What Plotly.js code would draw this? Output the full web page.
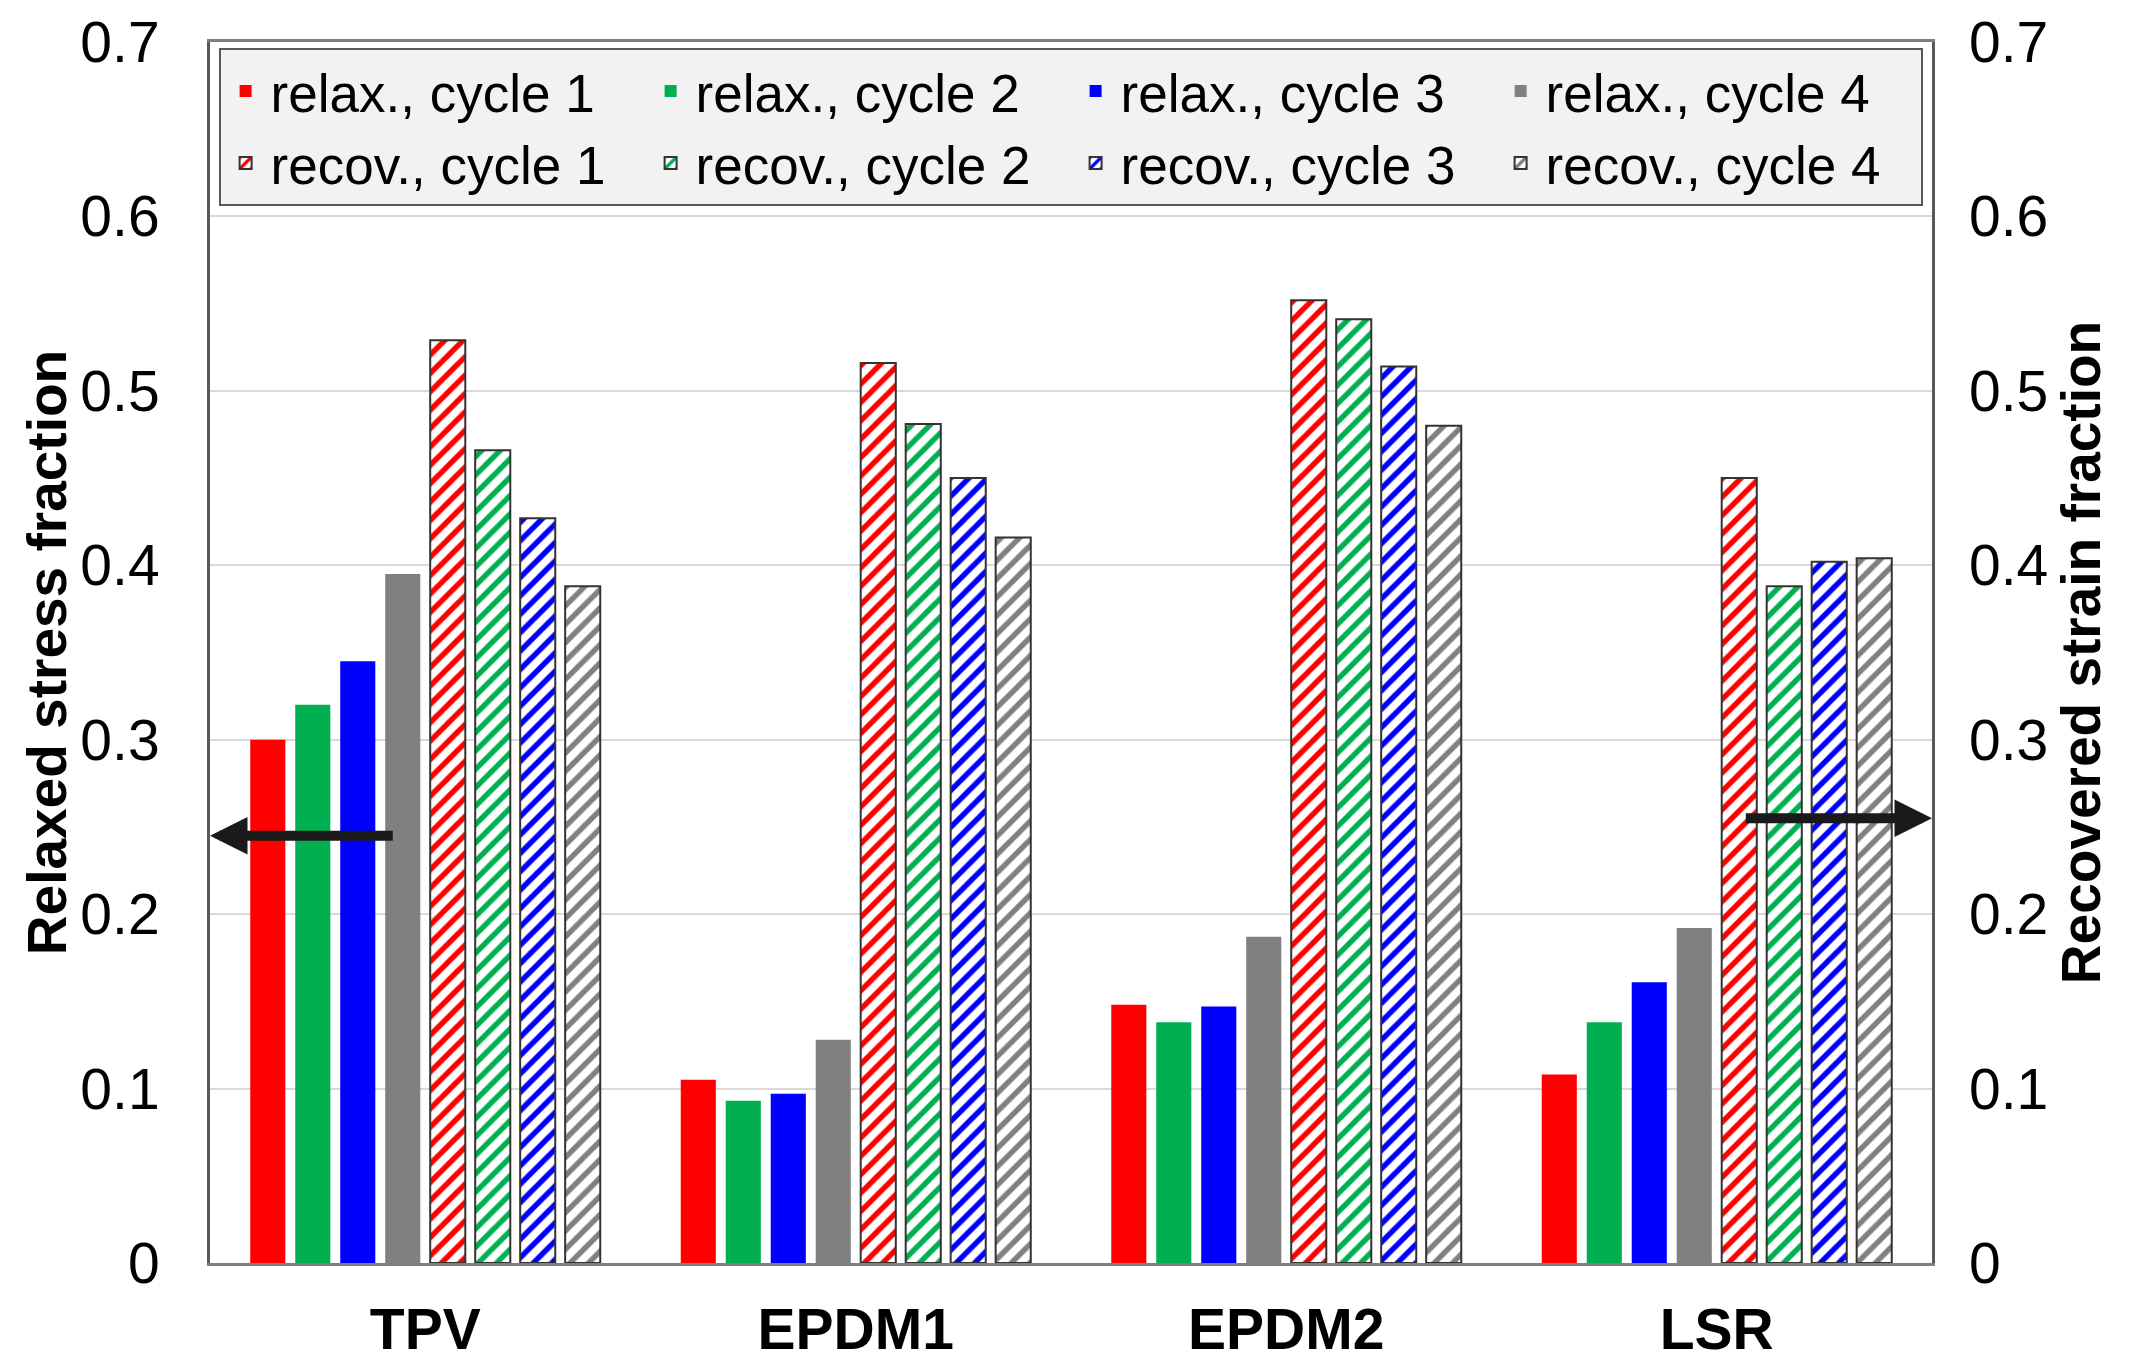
<!DOCTYPE html>
<html>
<head>
<meta charset="utf-8">
<script src="https://cdn.plot.ly/plotly-3.0.1.min.js"></script>
<style>html,body{margin:0;padding:0;background:#fff;}#chart{width:2137px;height:1370px;}</style>
</head>
<body>
<div id="chart"></div>
<script>
var categories = ["TPV", "EPDM1", "EPDM2", "LSR"];

var relaxCycle1 = [0.300, 0.105, 0.148, 0.108];
var relaxCycle2 = [0.320, 0.093, 0.138, 0.138];
var relaxCycle3 = [0.345, 0.097, 0.147, 0.161];
var relaxCycle4 = [0.395, 0.128, 0.187, 0.192];

var recovCycle1 = [0.529, 0.516, 0.552, 0.450];
var recovCycle2 = [0.466, 0.481, 0.541, 0.388];
var recovCycle3 = [0.427, 0.450, 0.514, 0.402];
var recovCycle4 = [0.388, 0.416, 0.480, 0.404];

var relaxNames = ["relax., cycle 1", "relax., cycle 2", "relax., cycle 3", "relax., cycle 4"];
var recovNames = ["recov., cycle 1", "recov., cycle 2", "recov., cycle 3", "recov., cycle 4"];
var colors = ["#ff0000", "#00b050", "#0000ff", "#808080"];

var relaxSeries = [relaxCycle1, relaxCycle2, relaxCycle3, relaxCycle4];
var recovSeries = [recovCycle1, recovCycle2, recovCycle3, recovCycle4];

var FONT = "Liberation Sans, Arial, sans-serif";
var traces = [];
relaxSeries.forEach(function (vals, i) {
  traces.push({
    type: "bar", x: categories, y: vals, name: relaxNames[i],
    xaxis: "x", yaxis: "y", offsetgroup: "g" + i,
    marker: { color: colors[i], line: { width: 0 } },
    hoverinfo: "skip"
  });
});
recovSeries.forEach(function (vals, i) {
  traces.push({
    type: "bar", x: categories, y: vals, name: recovNames[i],
    xaxis: "x", yaxis: "y2", offsetgroup: "g" + (i + 4),
    marker: {
      color: "#ffffff",
      line: { color: "#333333", width: 2 },
      pattern: { shape: "/", fgcolor: colors[i], bgcolor: "#ffffff", fgopacity: 1, size: 13, solidity: 0.42, fillmode: "replace" }
    },
    hoverinfo: "skip"
  });
});

var layout = {
  width: 2137, height: 1370,
  margin: { l: 210, r: 205, t: 42, b: 107 },
  paper_bgcolor: "#ffffff", plot_bgcolor: "#ffffff",
  font: { family: FONT, color: "#000000", size: 57 },
  barmode: "group", bargap: 0.164, bargroupgap: 0.22,
  showlegend: true,
  legend: {
    orientation: "h", x: 0.005, xanchor: "left", y: 0.995, yanchor: "top",
    bgcolor: "#f2f2f2", bordercolor: "#595959", borderwidth: 2,
    font: { family: FONT, size: 53, color: "#000000" },
    itemwidth: 40,
    entrywidth: 370, entrywidthmode: "pixels", traceorder: "normal",
    itemclick: false, itemdoubleclick: false
  },
  xaxis: {
    type: "category", showgrid: false, zeroline: false,
    showline: true, linecolor: "#7f7f7f", linewidth: 3, mirror: true,
    ticks: "", ticklabelstandoff: 15,
    tickfont: { family: FONT, size: 57, weight: "bold", color: "#000000" }
  },
  yaxis: {
    range: [0, 0.7], dtick: 0.1, tick0: 0,
    showgrid: true, gridcolor: "#d9d9d9", gridwidth: 2, zeroline: false,
    showline: true, linecolor: "#595959", linewidth: 3, mirror: true,
    ticks: "", ticklabelstandoff: 36,
    tickfont: { family: FONT, size: 57, color: "#000000" },
    title: { text: "Relaxed stress fraction", font: { family: FONT, size: 55, weight: "bold", color: "#000000" } }
  },
  yaxis2: {
    range: [0, 0.7], dtick: 0.1, tick0: 0, overlaying: "y", side: "right",
    showgrid: false, zeroline: false, showline: false,
    ticks: "", ticklabelstandoff: 36,
    tickfont: { family: FONT, size: 57, color: "#000000" },
    title: { text: "Recovered strain fraction", font: { family: FONT, size: 55, weight: "bold", color: "#000000" } }
  },
  annotations: [
    { xref: "x domain", yref: "y", axref: "x domain", ayref: "y",
      x: 0.0, y: 0.245, ax: 0.107, ay: 0.245, text: "", showarrow: true,
      arrowhead: 2, arrowsize: 0.75, arrowwidth: 10, arrowcolor: "#1a1a1a", standoff: 0, startstandoff: 0 },
    { xref: "x domain", yref: "y", axref: "x domain", ayref: "y",
      x: 1.0, y: 0.255, ax: 0.891, ay: 0.255, text: "", showarrow: true,
      arrowhead: 2, arrowsize: 0.75, arrowwidth: 10, arrowcolor: "#1a1a1a", standoff: 0, startstandoff: 0 }
  ]
};

Plotly.newPlot("chart", traces, layout, { staticPlot: true, displayModeBar: false });
</script>
</body>
</html>
